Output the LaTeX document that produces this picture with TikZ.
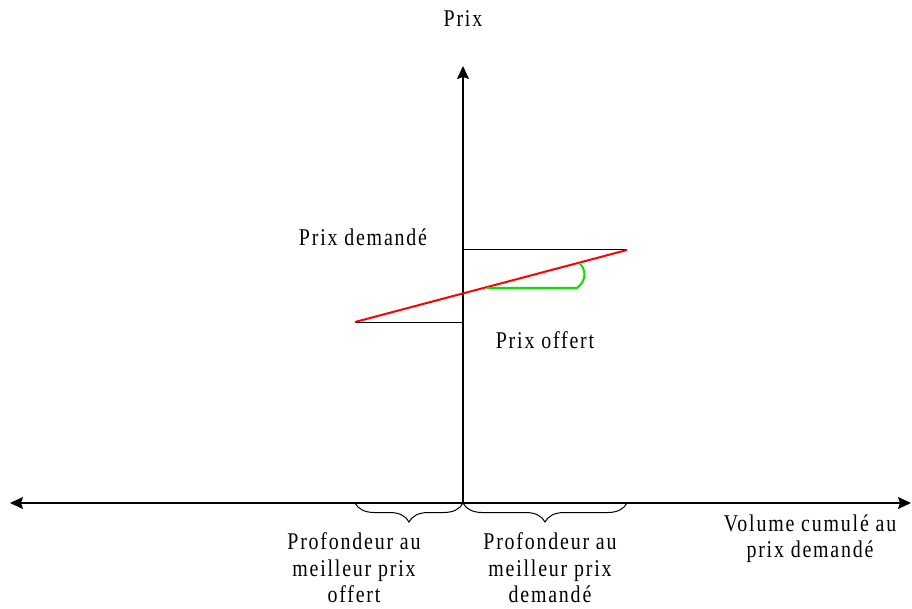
\documentclass[tikz,border=0pt]{standalone}
\usepackage{fontspec}
\newfontfamily\lblfont{Liberation Serif}[FakeStretch=0.83,LetterSpace=7.5]
\usepackage{xcolor}
\usetikzlibrary{arrows.meta,decorations.pathreplacing}
\definecolor{slopered}{HTML}{FF0000}
\definecolor{anglegreen}{HTML}{00E600}

\begin{document}
\begin{tikzpicture}[x=1pt, y=-1pt,
  >={Stealth[length=13pt, width=12pt, inset=2pt]},
  lbl/.style={font=\lblfont\fontsize{24}{26.5}\selectfont, inner sep=0pt, align=center},
  axisline/.style={line width=1.3pt},
  level/.style={line width=1pt},
  brc/.style={decorate, decoration={brace, mirror, amplitude=19pt}, line width=1pt}
]
\useasboundingbox (0,0) rectangle (912,609);

% axes
\coordinate (o) at (463,503);
\coordinate (ytop) at (463,66);
\coordinate (xl) at (10,503);
\coordinate (xr) at (911,503);
\draw[axisline, ->] (o) -- (ytop);
\draw[axisline, <->] (xl) -- (xr);

% best ask / best bid
\coordinate (askax) at (463,250);
\coordinate (ask) at (627,250);
\coordinate (bid) at (355,322);
\coordinate (bidax) at (463,322);
\draw[level] (askax) -- (ask);
\draw[level] (bid) -- (bidax);
\draw[slopered, line width=2pt] (bid) -- (ask);

% angle
\coordinate (g0) at (487,288);
\coordinate (g1) at (577,288);
\coordinate (g2) at (579,263);
\draw[anglegreen, line width=2pt, line join=round] (g0) -- (g1) .. controls (587,281) and (586,268) .. (g2);

% depth braces
\coordinate (bl) at (355,503);
\coordinate (br) at (627,503);
\draw[brc] (bl) -- (o);
\draw[brc] (o) -- (br);

% labels
\node[lbl, anchor=base] (prix) at (463,27) {Prix};
\node[lbl, anchor=base] (dem) at (363,246) {Prix demandé};
\node[lbl, anchor=base] (off) at (545,348) {Prix offert};
\node[lbl] (profoff) at (354,568) {Profondeur au\\meilleur prix\\offert};
\node[lbl] (profdem) at (550,568) {Profondeur au\\meilleur prix\\demandé};
\node[lbl] (vol) at (810,538.5) {Volume cumulé au\\prix demandé};
\end{tikzpicture}
\end{document}
